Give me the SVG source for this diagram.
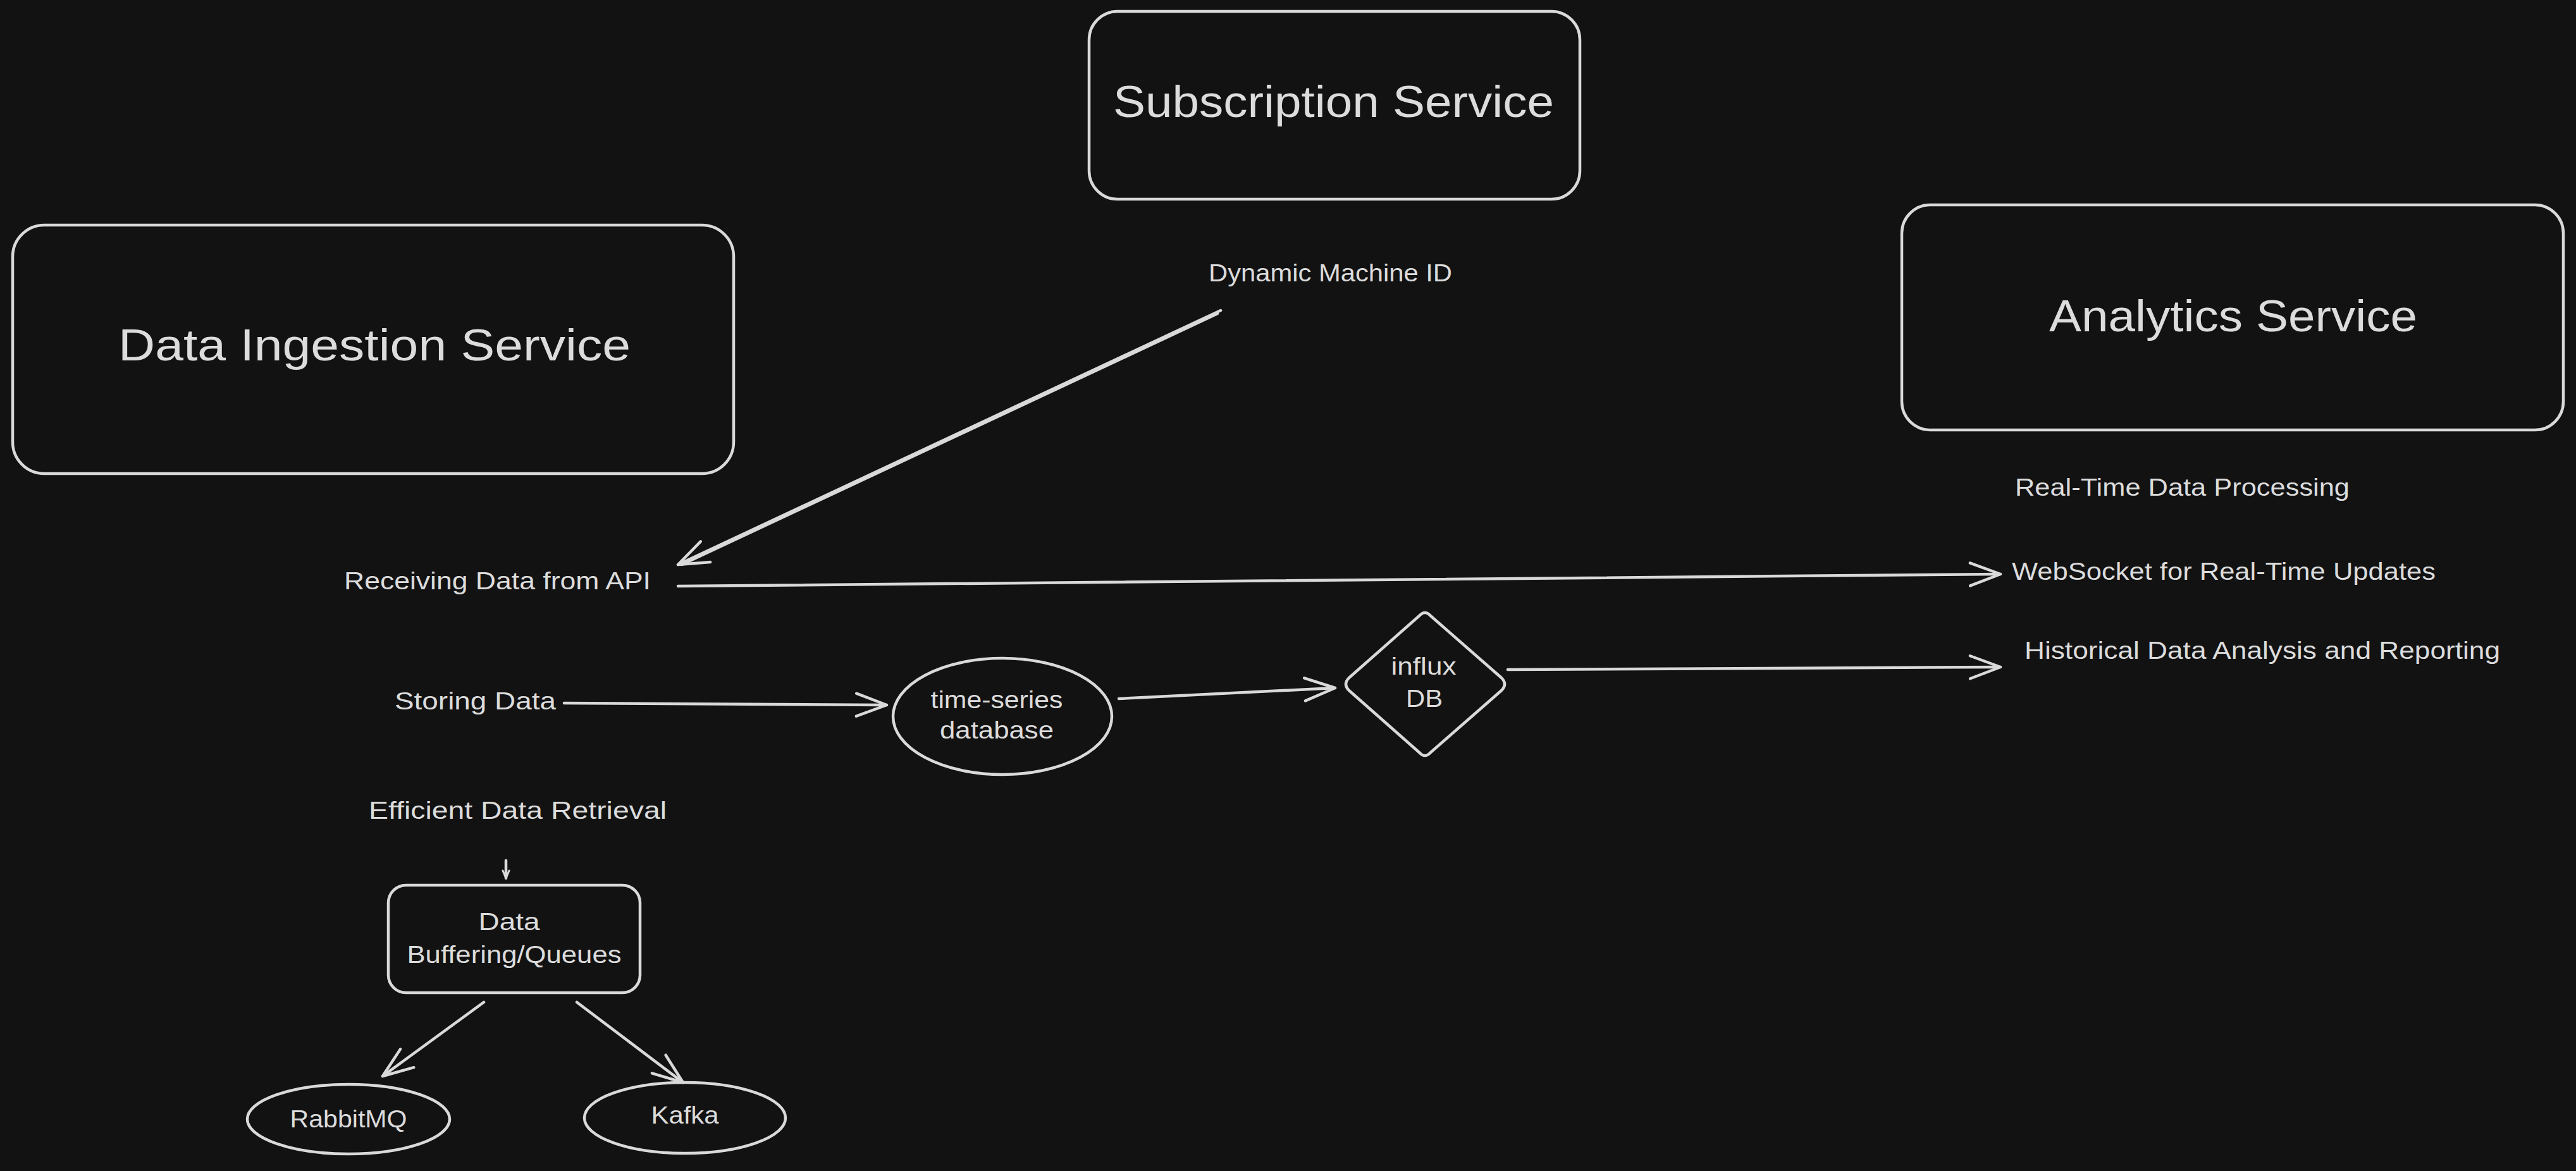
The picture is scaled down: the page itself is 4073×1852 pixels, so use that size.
<svg xmlns="http://www.w3.org/2000/svg" width="4073" height="1852" viewBox="0 0 4073 1852">
<style>
.bg{fill:#121212}
.shape{fill:none;stroke:#d9d9d9;stroke-width:4.5;stroke-linejoin:round;stroke-linecap:round}
.conn{fill:none;stroke:#d9d9d9;stroke-width:4.5;stroke-linecap:round}
.big{font-family:"Liberation Sans","Noto Sans",sans-serif;font-size:70px;fill:#dcdcdc}
.sm{font-family:"Liberation Sans","Noto Sans",sans-serif;font-size:38px;fill:#dcdcdc}
.mid{text-anchor:middle}
</style>
<defs>
<marker id="arr" markerUnits="userSpaceOnUse" markerWidth="80" markerHeight="60" viewBox="-60 -30 80 60" refX="0" refY="0" orient="auto" overflow="visible">
<path d="M-48,-18 L0,0 L-48,18" fill="none" stroke="#d9d9d9" stroke-width="4.5" stroke-linecap="round" stroke-linejoin="round"/>
</marker>
<marker id="arrS" markerUnits="userSpaceOnUse" markerWidth="30" markerHeight="30" viewBox="-20 -15 30 30" refX="0" refY="0" orient="auto" overflow="visible">
<path d="M-12,-5 L0,0 L-12,5" fill="none" stroke="#d9d9d9" stroke-width="3" stroke-linecap="round" stroke-linejoin="round"/>
</marker>
</defs>
<rect class="bg" x="0" y="0" width="4073" height="1852"/>

<g id="data-ingestion-service">
<rect class="shape" x="20" y="356" width="1140" height="393" rx="50" ry="50"/>
<text class="big" x="187" y="570" textLength="810" lengthAdjust="spacingAndGlyphs">Data Ingestion Service</text>
</g>

<g id="subscription-service">
<rect class="shape" x="1722" y="18" width="776" height="297" rx="45" ry="45"/>
<text class="big" x="1760" y="185" textLength="697" lengthAdjust="spacingAndGlyphs">Subscription Service</text>
</g>

<g id="analytics-service">
<rect class="shape" x="3007" y="324" width="1046" height="356" rx="45" ry="45"/>
<text class="big" x="3240" y="524" textLength="582" lengthAdjust="spacingAndGlyphs">Analytics Service</text>
</g>

<g id="dynamic-machine-id">
<text class="sm" x="1911" y="445" textLength="385" lengthAdjust="spacingAndGlyphs">Dynamic Machine ID</text>
</g>

<g id="receiving-data">
<text class="sm" x="544" y="932" textLength="485" lengthAdjust="spacingAndGlyphs">Receiving Data from API</text>
</g>

<g id="storing-data">
<text class="sm" x="624" y="1122" textLength="255" lengthAdjust="spacingAndGlyphs">Storing Data</text>
</g>

<g id="efficient-retrieval">
<text class="sm" x="583" y="1295" textLength="471" lengthAdjust="spacingAndGlyphs">Efficient Data Retrieval</text>
</g>

<g id="real-time-processing">
<text class="sm" x="3186" y="784" textLength="529" lengthAdjust="spacingAndGlyphs">Real-Time Data Processing</text>
</g>

<g id="websocket-updates">
<text class="sm" x="3181" y="917" textLength="670" lengthAdjust="spacingAndGlyphs">WebSocket for Real-Time Updates</text>
</g>

<g id="historical-analysis">
<text class="sm" x="3201" y="1042" textLength="752" lengthAdjust="spacingAndGlyphs">Historical Data Analysis and Reporting</text>
</g>

<g id="time-series-db">
<ellipse class="shape" cx="1585" cy="1133" rx="173" ry="92"/>
<text class="sm mid" x="1576" y="1120" textLength="209" lengthAdjust="spacingAndGlyphs">time-series</text>
<text class="sm mid" x="1576" y="1168" textLength="180" lengthAdjust="spacingAndGlyphs">database</text>
</g>

<g id="influx-db">
<path class="shape" d="M2244,974 Q2253,964 2262,974 L2374,1072 Q2384,1082 2374,1092 L2262,1190 Q2253,1200 2244,1190 L2133,1092 Q2123,1082 2133,1072 Z"/>
<text class="sm mid" x="2251" y="1067" textLength="103" lengthAdjust="spacingAndGlyphs">influx</text>
<text class="sm mid" x="2252" y="1118" textLength="58" lengthAdjust="spacingAndGlyphs">DB</text>
</g>

<g id="data-buffering">
<rect class="shape" x="614" y="1400" width="398" height="170" rx="28" ry="28"/>
<text class="sm mid" x="805" y="1471" textLength="97" lengthAdjust="spacingAndGlyphs">Data</text>
<text class="sm mid" x="813" y="1523" textLength="339" lengthAdjust="spacingAndGlyphs">Buffering/Queues</text>
</g>

<g id="rabbitmq">
<ellipse class="shape" cx="551" cy="1770" rx="160" ry="55"/>
<text class="sm mid" x="551" y="1783" textLength="185" lengthAdjust="spacingAndGlyphs">RabbitMQ</text>
</g>

<g id="kafka">
<ellipse class="shape" cx="1083" cy="1768" rx="159" ry="56"/>
<text class="sm mid" x="1083" y="1777" textLength="107" lengthAdjust="spacingAndGlyphs">Kafka</text>
</g>

<g id="connectors">
<line class="conn" x1="1930" y1="491" x2="1072" y2="893" marker-end="url(#arr)"/>
<line class="conn" x1="1925" y1="496" x2="1078" y2="893"/>
<line class="conn" x1="1072" y1="927" x2="3163" y2="908" marker-end="url(#arr)"/>
<line class="conn" x1="892" y1="1112" x2="1402" y2="1115" marker-end="url(#arr)"/>
<line class="conn" x1="1769" y1="1105" x2="2111" y2="1088" marker-end="url(#arr)"/>
<line class="conn" x1="2384" y1="1059" x2="3163" y2="1055" marker-end="url(#arr)"/>
<line class="conn" x1="800" y1="1361" x2="800" y2="1389" stroke-width="3" marker-end="url(#arrS)"/>
<line class="conn" x1="765" y1="1585" x2="605" y2="1702" marker-end="url(#arr)"/>
<line class="conn" x1="912" y1="1585" x2="1080" y2="1712" marker-end="url(#arr)"/>
</g>
</svg>
